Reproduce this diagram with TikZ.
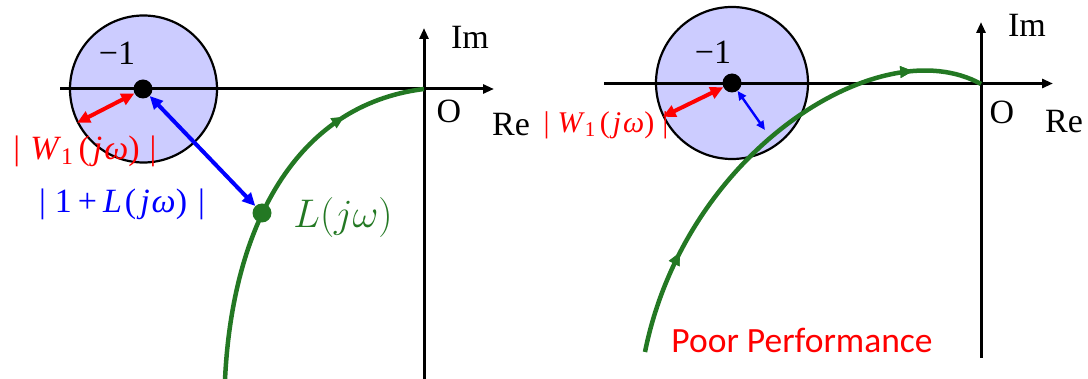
\RequirePackage{fix-cm}
\documentclass[tikz,border=0pt]{standalone}
\usepackage[no-math]{fontspec}
\setmainfont{Liberation Serif}
\newfontfamily\serif{Liberation Serif}
\newfontfamily\sansf{Carlito}
\usetikzlibrary{arrows.meta,decorations.markings}
\definecolor{cfill}{RGB}{204,204,255}
\definecolor{lgreen}{RGB}{35,120,35}
\begin{document}
\begin{tikzpicture}[x=1pt,y=-1pt,
  axis/.style={line width=3pt,-{Triangle[length=11pt,width=9pt]}},
  disk/.style={circle,draw=black,line width=2.2pt,fill=cfill,inner sep=0pt},
  dot/.style={circle,fill=black,inner sep=0pt,minimum size=19pt},
  gdot/.style={circle,fill=lgreen,inner sep=0pt,minimum size=19pt},
  lbl/.style={inner sep=0pt,font=\serif\fontsize{34}{40}\selectfont},
  dblarr/.style={line width=#1,{Triangle[length=13pt,width=12pt]}-{Triangle[length=13pt,width=12pt]}},
  dblsmall/.style={line width=2.4pt,{Triangle[length=9pt,width=8pt]}-{Triangle[length=9pt,width=8pt]}},
  gcurve/.style={draw=lgreen,line width=4.5pt},
  garrow/.style={postaction={decorate},decoration={markings,mark=at position #1 with {\arrow[lgreen]{Triangle[length=13pt,width=11pt]}}}}
]
\useasboundingbox (0,0) rectangle (1088,379);

% ---------- left panel ----------
\node[disk,minimum size=147pt] (c1) at (143.5,89) {};
\coordinate (re1s) at (60,89);
\coordinate (re1e) at (494,89);
\coordinate (im1s) at (424,379);
\coordinate (im1e) at (424,28);
\draw[axis] (re1s) -- (re1e);
\draw[axis] (im1s) -- (im1e);
\coordinate (gs1) at (225,380);
\coordinate (ge1) at (424,89);
\draw[gcurve,garrow=0.78] (gs1) .. controls (232,229) and (294,105) .. (ge1);
\node[dot] (m1) at (143,89) {};
\node[gdot] (g1) at (262,213) {};
\draw[red,dblarr=4pt] (m1) -- (c1.207);
\draw[blue,dblarr=4pt] (m1) -- (g1);
\node[lbl] (n1) at (117,53) {−1};
\node[lbl] (im1) at (470,37) {Im};
\node[lbl] (o1) at (449,111) {O};
\node[lbl] (re1) at (511,125) {Re};
\node[lbl,red] (w1) at (85,151) {\textbar\hspace{10pt}\textit{W}\textsubscript{1}\hspace{5pt}(\hspace{3pt}\textit{j}\hspace{2pt}\textit{ω})\hspace{10pt}\textbar};
\node[lbl,blue] (s1) at (122,204) {\textbar\hspace{9pt}1\hspace{6pt}+\hspace{6pt}\textit{L}\hspace{3pt}(\hspace{4pt}\textit{j}\hspace{2pt}\textit{ω})\hspace{11pt}\textbar};
\node[inner sep=0pt,lgreen,font=\fontsize{40}{46}\selectfont] (l1) at (343,218) {$L(j\omega)$};

% ---------- right panel ----------
\node[disk,minimum size=152pt] (c2) at (732,83) {};
\coordinate (re2s) at (604,83.5);
\coordinate (re2e) at (1053,83.5);
\coordinate (im2s) at (981,358);
\coordinate (im2e) at (981,22);
\draw[axis] (re2s) -- (re2e);
\draw[axis] (im2s) -- (im2e);
\coordinate (gs2) at (645,352);
\coordinate (ge2) at (981,84);
\draw[gcurve,garrow=0.22,garrow=0.855] (gs2) .. controls (685,152) and (880,28) .. (ge2);
\node[dot] (m2) at (732,83) {};
\coordinate (b2) at (765,130);
\draw[red,dblarr=4pt] (m2) -- (c2.206);
\draw[blue,dblsmall] (m2) -- (b2);
\node[lbl] (n2) at (713,52) {−1};
\node[lbl] (im2) at (1027,25) {Im};
\node[lbl] (o2) at (1002,112) {O};
\node[lbl] (re2) at (1064,122) {Re};
\node[lbl,red,font=\serif\fontsize{30}{36}\selectfont] (w2) at (606,125) {\textbar\hspace{8pt}\textit{W}\textsubscript{1}\hspace{4pt}(\hspace{3pt}\textit{j}\hspace{2pt}\textit{ω})\hspace{8pt}\textbar};
\node[lbl,red,font=\sansf\fontsize{35.5}{42}\selectfont] (pp) at (802,340) {Poor Performance};
\end{tikzpicture}
\end{document}
